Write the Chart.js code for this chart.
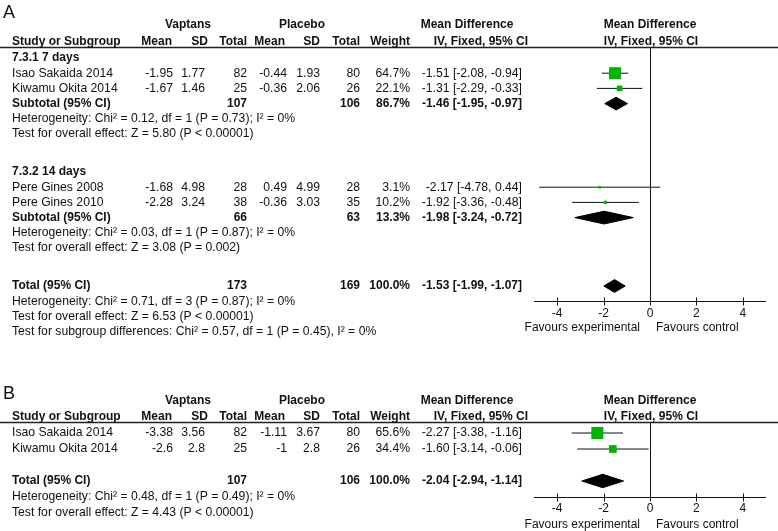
<!DOCTYPE html>
<html>
<head>
<meta charset="utf-8">
<script src="https://cdn.jsdelivr.net/npm/chart.js@4.4.0/dist/chart.umd.min.js"></script>
<style>
body { margin: 0; background: #fff; }
#wrap { position: relative; width: 778px; height: 531px; }
canvas { position: absolute; left: 0; }
</style>
</head>
<body>
<div id="wrap">
  <canvas id="chartA" width="778" height="360" style="top:0"></canvas>
  <canvas id="chartB" width="778" height="171" style="top:360px"></canvas>
</div>
<script>
// ---- panel A data ----
const studiesA = ['Isao Sakaida 2014', 'Kiwamu Okita 2014', 'Pere Gines 2008', 'Pere Gines 2010'];
const vapMeanA = [-1.95, -1.67, -1.68, -2.28];
const vapSdA = [1.77, 1.46, 4.98, 3.24];
const vapNA = [82, 25, 28, 38];
const plaMeanA = [-0.44, -0.36, 0.49, -0.36];
const plaSdA = [1.93, 2.06, 4.99, 3.03];
const plaNA = [80, 26, 28, 35];
const weightA = [64.7, 22.1, 3.1, 10.2];
const mdA = [-1.51, -1.31, -2.17, -1.92];
const loA = [-2.08, -2.29, -4.78, -3.36];
const hiA = [-0.94, -0.33, 0.44, -0.48];
const rowA = [1, 2, 8.5, 9.5];

const subgroupsA = ['7.3.1 7 days', '7.3.2 14 days'];
const subVapNA = [107, 66];
const subPlaNA = [106, 63];
const subWeightA = [86.7, 13.3];
const subMdA = [-1.46, -1.98];
const subLoA = [-1.95, -3.24];
const subHiA = [-0.97, -0.72];
const subHetA = ['Heterogeneity: Chi\u00b2 = 0.12, df = 1 (P = 0.73); I\u00b2 = 0%',
                 'Heterogeneity: Chi\u00b2 = 0.03, df = 1 (P = 0.87); I\u00b2 = 0%'];
const subTestA = ['Test for overall effect: Z = 5.80 (P < 0.00001)',
                  'Test for overall effect: Z = 3.08 (P = 0.002)'];
const subRowA = [0, 7.5];

const totalA = { vN: 173, pN: 169, w: 100.0, md: -1.53, lo: -1.99, hi: -1.07 };
const totalTextA = ['Heterogeneity: Chi\u00b2 = 0.71, df = 3 (P = 0.87); I\u00b2 = 0%',
                    'Test for overall effect: Z = 6.53 (P < 0.00001)',
                    'Test for subgroup differences: Chi\u00b2 = 0.57, df = 1 (P = 0.45), I\u00b2 = 0%'];

// ---- panel B data ----
const studiesB = ['Isao Sakaida 2014', 'Kiwamu Okita 2014'];
const vapMeanB = [-3.38, -2.6];
const vapSdB = [3.56, 2.8];
const vapNB = [82, 25];
const plaMeanB = [-1.11, -1];
const plaSdB = [3.67, 2.8];
const plaNB = [80, 26];
const weightB = [65.6, 34.4];
const mdB = [-2.27, -1.60];
const loB = [-3.38, -3.14];
const hiB = [-1.16, -0.06];
const rowB = [0, 1];

const totalB = { vN: 107, pN: 106, w: 100.0, md: -2.04, lo: -2.94, hi: -1.14 };
const totalTextB = ['Heterogeneity: Chi\u00b2 = 0.48, df = 1 (P = 0.49); I\u00b2 = 0%',
                    'Test for overall effect: Z = 4.43 (P < 0.00001)'];

const axisTicks = [-4, -2, 0, 2, 4];

// ---- layout / style ----
const FONT = '"Liberation Sans", Arial, sans-serif';
const GREEN = '#00b400';
const col = { study: 12, vMean: 173, vSd: 205, vN: 247, pMean: 287, pSd: 320, pN: 360, weight: 410, ci: 522 };

function ci(md, lo, hi) {
    return md.toFixed(2) + ' [' + lo.toFixed(2) + ', ' + hi.toFixed(2) + ']';
}

function T(list, t, x, row, align, bold, size) {
    list.push({ t: t, x: x, row: row, align: align || 'left', bold: !!bold, size: size || (bold ? 12 : 12.2) });
}

function headerTexts(list, letter, letterRow, groupRow, colRow) {
    T(list, letter, 3, letterRow, 'left', false, 18);
    T(list, 'Vaptans', 188, groupRow, 'center', true);
    T(list, 'Placebo', 302, groupRow, 'center', true);
    T(list, 'Mean Difference', 467, groupRow, 'center', true);
    T(list, 'Mean Difference', 650, groupRow, 'center', true);
    T(list, 'Study or Subgroup', col.study, colRow, 'left', true);
    T(list, 'Mean', 172, colRow, 'right', true);
    T(list, 'SD', 208, colRow, 'right', true);
    T(list, 'Total', 247, colRow, 'right', true);
    T(list, 'Mean', 285, colRow, 'right', true);
    T(list, 'SD', 320, colRow, 'right', true);
    T(list, 'Total', 360, colRow, 'right', true);
    T(list, 'Weight', 410, colRow, 'right', true);
    T(list, 'IV, Fixed, 95% CI', 528, colRow, 'right', true);
    T(list, 'IV, Fixed, 95% CI', 651, colRow, 'center', true);
}

function studyTexts(list, d) {
    d.names.forEach((name, i) => {
        const r = d.rows[i];
        T(list, name, col.study, r, 'left');
        T(list, String(d.vMean[i]), col.vMean, r, 'right');
        T(list, String(d.vSd[i]), col.vSd, r, 'right');
        T(list, String(d.vN[i]), col.vN, r, 'right');
        T(list, String(d.pMean[i]), col.pMean, r, 'right');
        T(list, String(d.pSd[i]), col.pSd, r, 'right');
        T(list, String(d.pN[i]), col.pN, r, 'right');
        T(list, d.w[i].toFixed(1) + '%', col.weight, r, 'right');
        T(list, ci(d.md[i], d.lo[i], d.hi[i]), col.ci, r, 'right');
    });
}

function pooledTexts(list, label, row, s) {
    T(list, label, col.study, row, 'left', true);
    T(list, String(s.vN), col.vN, row, 'right', true);
    T(list, String(s.pN), col.pN, row, 'right', true);
    T(list, s.w.toFixed(1) + '%', col.weight, row, 'right', true);
    T(list, ci(s.md, s.lo, s.hi), col.ci, row, 'right', true);
}

// ---- datasets from the data ----
function squareSide(w) {
    return Math.max(2.5, 12 * Math.pow(w / 65, 0.7));
}

function forestDatasets(d, pooled) {
    const sets = [];
    sets.push({
        label: 'studies',
        data: d.md.map((m, i) => ({ x: m, y: d.rows[i] })),
        pointStyle: 'rect',
        pointRadius: d.w.map(w => squareSide(w) / Math.SQRT2),
        backgroundColor: GREEN,
        borderColor: GREEN,
        borderWidth: 0,
        order: 0
    });
    d.md.forEach((m, i) => {
        sets.push({
            label: 'ci ' + i,
            data: [{ x: d.lo[i], y: d.rows[i] }, { x: d.hi[i], y: d.rows[i] }],
            showLine: true,
            borderColor: '#111',
            borderWidth: 1,
            pointRadius: 0,
            order: 1
        });
    });
    pooled.forEach((s, k) => {
        const h = 0.42;
        sets.push({
            label: 'pooled ' + k,
            data: [{ x: s.lo, y: s.row }, { x: s.md, y: s.row - h }, { x: s.hi, y: s.row },
                   { x: s.md, y: s.row + h }, { x: s.lo, y: s.row }],
            showLine: true,
            fill: 'shape',
            backgroundColor: '#000',
            borderColor: '#000',
            borderWidth: 1,
            pointRadius: 0,
            tension: 0,
            order: 1
        });
    });
    return sets;
}

function forestLayer(spec) {
    return {
        id: 'forestLayer',
        beforeDatasetsDraw(chart) {
            const { ctx } = chart;
            const x = chart.scales.x, y = chart.scales.y;
            const yRule = Math.round(y.getPixelForValue(spec.ruleRow)) + 0.5;
            const yAxis = Math.round(y.getPixelForValue(spec.axisRow)) + 0.5;
            const x0 = Math.round(x.getPixelForValue(0)) + 0.5;
            ctx.save();
            ctx.strokeStyle = '#222';
            ctx.lineWidth = 1.5;
            ctx.beginPath();
            ctx.moveTo(0, yRule);
            ctx.lineTo(chart.width, yRule);
            ctx.stroke();
            ctx.lineWidth = 1;
            ctx.strokeStyle = '#111';
            ctx.beginPath();
            ctx.moveTo(x0, yRule);
            ctx.lineTo(x0, yAxis);
            ctx.moveTo(x.getPixelForValue(x.min), yAxis);
            ctx.lineTo(x.getPixelForValue(x.max), yAxis);
            axisTicks.forEach(v => {
                const px = Math.round(x.getPixelForValue(v)) + 0.5;
                ctx.moveTo(px, yAxis - 4);
                ctx.lineTo(px, yAxis + 4);
            });
            ctx.stroke();
            ctx.restore();
        },
        afterDraw(chart) {
            const { ctx } = chart;
            const x = chart.scales.x, y = chart.scales.y;
            ctx.save();
            ctx.fillStyle = '#111';
            ctx.textBaseline = 'middle';
            spec.texts.forEach(t => {
                ctx.font = (t.bold ? 'bold ' : '') + t.size + 'px ' + FONT;
                ctx.textAlign = t.align;
                ctx.fillText(t.t, t.x, y.getPixelForValue(t.row));
            });
            ctx.font = '12px ' + FONT;
            ctx.textAlign = 'center';
            const yTick = y.getPixelForValue(spec.axisRow + spec.tickGap);
            axisTicks.forEach(v => ctx.fillText(String(v), x.getPixelForValue(v), yTick));
            const yFav = y.getPixelForValue(spec.axisRow + spec.favGap);
            ctx.textAlign = 'right';
            ctx.fillText('Favours experimental', x.getPixelForValue(0) - 10, yFav);
            ctx.textAlign = 'left';
            ctx.fillText('Favours control', x.getPixelForValue(0) + 6, yFav);
            ctx.restore();
        }
    };
}

function makeChart(id, height, firstRowPx, rowPx, d, pooled, spec) {
    const yMin = -firstRowPx / rowPx;
    const yMax = yMin + height / rowPx;
    return new Chart(document.getElementById(id).getContext('2d'), {
        type: 'scatter',
        data: { datasets: forestDatasets(d, pooled) },
        options: {
            responsive: false,
            animation: false,
            layout: { autoPadding: false, padding: { left: 534, right: 12, top: 0, bottom: 0 } },
            scales: {
                x: { type: 'linear', min: -5, max: 5, display: false },
                y: { type: 'linear', min: yMin, max: yMax, reverse: true, display: false }
            },
            plugins: { legend: { display: false }, tooltip: { enabled: false } }
        },
        plugins: [forestLayer(spec)]
    });
}

// ---- panel A ----
const dataA = { names: studiesA, vMean: vapMeanA, vSd: vapSdA, vN: vapNA, pMean: plaMeanA, pSd: plaSdA,
                pN: plaNA, w: weightA, md: mdA, lo: loA, hi: hiA, rows: rowA };
const textsA = [];
headerTexts(textsA, 'A', -2.95, -2.17, -1.09);
studyTexts(textsA, dataA);
const pooledA = [];
subgroupsA.forEach((g, k) => {
    const r = subRowA[k];
    T(textsA, g, col.study, r, 'left', true);
    const s = { vN: subVapNA[k], pN: subPlaNA[k], w: subWeightA[k], md: subMdA[k], lo: subLoA[k], hi: subHiA[k], row: r + 3 };
    pooledTexts(textsA, 'Subtotal (95% CI)', r + 3, s);
    T(textsA, subHetA[k], col.study, r + 4);
    T(textsA, subTestA[k], col.study, r + 5);
    pooledA.push(s);
});
pooledTexts(textsA, 'Total (95% CI)', 15, totalA);
pooledA.push(Object.assign({ row: 15 }, totalA));
totalTextA.forEach((t, i) => T(textsA, t, col.study, 16 + i));

makeChart('chartA', 360, 58, 15.2, dataA, pooledA,
    { texts: textsA, ruleRow: -0.72, axisRow: 16, tickGap: 0.8, favGap: 1.75 });

// ---- panel B ----
const dataB = { names: studiesB, vMean: vapMeanB, vSd: vapSdB, vN: vapNB, pMean: plaMeanB, pSd: plaSdB,
                pN: plaNB, w: weightB, md: mdB, lo: loB, hi: hiB, rows: rowB };
const textsB = [];
headerTexts(textsB, 'B', -2.45, -2.02, -1.0);
studyTexts(textsB, dataB);
pooledTexts(textsB, 'Total (95% CI)', 3, totalB);
totalTextB.forEach((t, i) => T(textsB, t, col.study, 4 + i));

makeChart('chartB', 171, 73, 16, dataB, [Object.assign({ row: 3 }, totalB)],
    { texts: textsB, ruleRow: -0.69, axisRow: 4, tickGap: 0.75, favGap: 1.7 });
</script>
</body>
</html>
